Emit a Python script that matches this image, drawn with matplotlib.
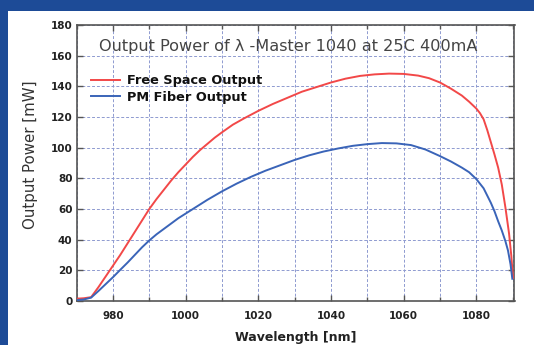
import matplotlib
matplotlib.use("Agg")
import matplotlib.pyplot as plt
from matplotlib.ticker import MultipleLocator

# ---- data ----
free_nm = [970, 972, 974, 976, 978, 980, 982, 984, 986, 988, 990, 992, 994,
           996, 998, 1000, 1002, 1004, 1006, 1008, 1010, 1013, 1016, 1020,
           1024, 1028, 1032, 1036, 1040, 1044, 1048, 1052, 1056, 1060, 1064,
           1067, 1070, 1073, 1076, 1078, 1080, 1081, 1082, 1083, 1084, 1085,
           1086, 1087, 1088, 1089, 1089.6, 1090.1]
free_mw = [1.5, 1.8, 2.5, 9, 16, 23, 30, 37.5, 45, 52.5, 60, 66.5, 72.5,
           78.5, 84, 89, 94, 98.5, 102.5, 106.5, 110, 115, 119, 124,
           128.5, 132.5, 136.5, 139.5, 142.5, 145, 146.8, 147.8, 148.3, 148.1, 147,
           145.3, 142.5, 138.5, 134, 130, 125.5, 122.5, 118.5, 111.5, 103.5, 95.5,
           87, 76, 61, 44, 30, 15]

fiber_nm = [970, 972, 974, 976, 978, 980, 982, 984, 986, 988, 990, 992, 994,
            996, 998, 1000, 1003, 1006, 1010, 1014, 1018, 1022, 1026, 1030,
            1034, 1038, 1042, 1046, 1050, 1054, 1058, 1062, 1066, 1070, 1073,
            1076, 1078, 1080, 1082, 1084, 1085, 1086, 1087, 1088, 1088.7,
            1089.4, 1089.9]
fiber_mw = [0.5, 1.0, 2.2, 6.5, 11, 15.5, 20.3, 25, 30, 35, 39.5, 43.5, 47,
            50.5, 54, 57, 61.5, 66, 71.5, 76.5, 81, 85, 88.5, 92,
            95, 97.5, 99.5, 101.2, 102.3, 103, 102.8, 101.7, 98.8, 94.5, 91,
            87, 84, 79.5, 73.5, 64, 58.5, 52, 46, 39, 33,
            24, 14.5]

x_ticks = [980, 1000, 1020, 1040, 1060, 1080]
y_ticks = [0, 20, 40, 60, 80, 100, 120, 140, 160, 180]

title_text = "Output Power of \u03bb -Master 1040 at 25C 400mA"
series_labels = ["Free Space Output", "PM Fiber Output"]

W, H = 534, 345
fig = plt.figure(figsize=(W / 100, H / 100), dpi=100)
fig.patch.set_facecolor("#1d4b97")

bg = fig.add_axes([8 / W, 0, 1 - 8 / W, 1 - 11 / H], zorder=-5)
bg.set_facecolor("white")
bg.set_xticks([]); bg.set_yticks([])
for s in bg.spines.values():
    s.set_visible(False)

ax = fig.add_axes([76.6 / W, 1 - 301 / H, (514.5 - 76.6) / W, (301 - 25) / H])
ax.set_facecolor("white")

ax.plot(free_nm, free_mw, color="#f24848", lw=1.4, label=series_labels[0], zorder=3)
ax.plot(fiber_nm, fiber_mw, color="#3a64b8", lw=1.4, label=series_labels[1], zorder=3)

ax.set_xlim(970, 1090.5)
ax.set_ylim(0, 180)
ax.set_xticks(x_ticks)
ax.set_yticks(y_ticks)
ax.xaxis.set_minor_locator(MultipleLocator(10))

ax.grid(True, which="both", axis="x", color="#8e9ad0", lw=0.7, ls=(0, (3, 2)))
ax.grid(True, which="major", axis="y", color="#8e9ad0", lw=0.7, ls=(0, (3, 2)))
ax.set_axisbelow(True)

fam = ["DejaVu Sans"]
ax.tick_params(which="both", direction="in", top=True, right=True,
               color="#555555", width=1.0)
ax.tick_params(which="major", length=4)
ax.tick_params(which="minor", length=3)
ax.tick_params(axis="x", pad=7)
ax.tick_params(axis="y", pad=3)
for lab in ax.get_xticklabels() + ax.get_yticklabels():
    lab.set_fontfamily(fam)
    lab.set_fontweight("bold")
    lab.set_fontsize(7.5)
    lab.set_color("#222222")

for s in ax.spines.values():
    s.set_color("#555555")
    s.set_linewidth(1.2)

ax.set_xlabel("Wavelength [nm]", family=fam, weight="bold", size=9,
              color="#222222", va="center")
ax.xaxis.set_label_coords(0.5, (301 - 338) / 276)
ax.set_ylabel("Output Power [mW]", family=fam, size=10.8, color="#333333",
              va="center")
ax.yaxis.set_label_coords((30 - 76.6) / 437.9, (301 - 154.5) / 276)

ax.text((288.5 - 76.6) / 437.9, (301 - 47) / 276, title_text, transform=ax.transAxes,
        ha="center", va="center", family=fam, size=11.6, color="#444444")

leg = ax.legend(loc="upper left", bbox_to_anchor=(0.032, 0.822), frameon=False,
                prop=dict(family=fam, weight="bold", size=9.3),
                handlelength=2.3, handletextpad=0.5, labelspacing=0.3, borderpad=0,
                borderaxespad=0)
for t in leg.get_texts():
    t.set_color("#111111")

fig.savefig("out.png", dpi=100, facecolor=fig.get_facecolor())
